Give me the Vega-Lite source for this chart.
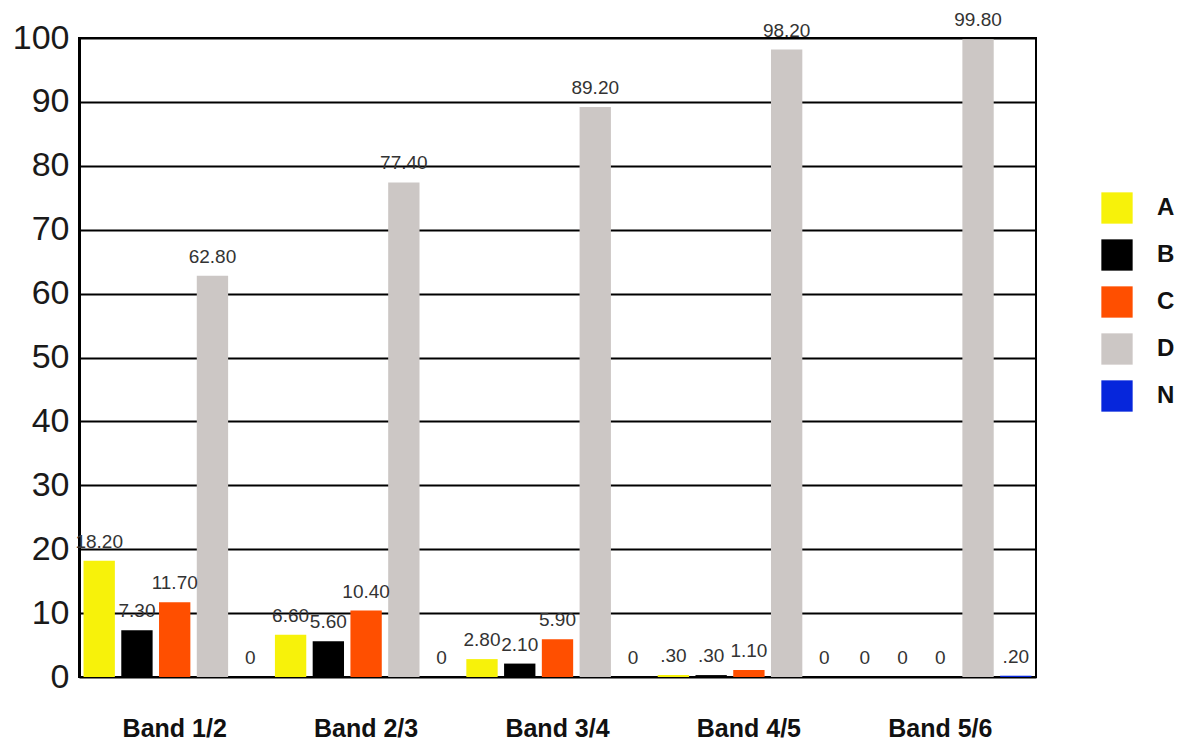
{
  "$schema": "https://vega.github.io/schema/vega-lite/v6.json",
  "autosize": "none",
  "width": 957,
  "height": 639,
  "padding": {"left": 79, "top": 38, "right": 144, "bottom": 65},
  "background": "white",
  "config": {
    "font": "Liberation Sans",
    "view": {"stroke": "black", "strokeWidth": 2}
  },
  "data": {
    "values": [
      {"band": "Band 1/2", "series": "A", "value": 18.2, "label": "18.20"},
      {"band": "Band 1/2", "series": "B", "value": 7.3, "label": "7.30"},
      {"band": "Band 1/2", "series": "C", "value": 11.7, "label": "11.70"},
      {"band": "Band 1/2", "series": "D", "value": 62.8, "label": "62.80"},
      {"band": "Band 1/2", "series": "N", "value": 0, "label": "0"},
      {"band": "Band 2/3", "series": "A", "value": 6.6, "label": "6.60"},
      {"band": "Band 2/3", "series": "B", "value": 5.6, "label": "5.60"},
      {"band": "Band 2/3", "series": "C", "value": 10.4, "label": "10.40"},
      {"band": "Band 2/3", "series": "D", "value": 77.4, "label": "77.40"},
      {"band": "Band 2/3", "series": "N", "value": 0, "label": "0"},
      {"band": "Band 3/4", "series": "A", "value": 2.8, "label": "2.80"},
      {"band": "Band 3/4", "series": "B", "value": 2.1, "label": "2.10"},
      {"band": "Band 3/4", "series": "C", "value": 5.9, "label": "5.90"},
      {"band": "Band 3/4", "series": "D", "value": 89.2, "label": "89.20"},
      {"band": "Band 3/4", "series": "N", "value": 0, "label": "0"},
      {"band": "Band 4/5", "series": "A", "value": 0.3, "label": ".30"},
      {"band": "Band 4/5", "series": "B", "value": 0.3, "label": ".30"},
      {"band": "Band 4/5", "series": "C", "value": 1.1, "label": "1.10"},
      {"band": "Band 4/5", "series": "D", "value": 98.2, "label": "98.20"},
      {"band": "Band 4/5", "series": "N", "value": 0, "label": "0"},
      {"band": "Band 5/6", "series": "A", "value": 0, "label": "0"},
      {"band": "Band 5/6", "series": "B", "value": 0, "label": "0"},
      {"band": "Band 5/6", "series": "C", "value": 0, "label": "0"},
      {"band": "Band 5/6", "series": "D", "value": 99.8, "label": "99.80"},
      {"band": "Band 5/6", "series": "N", "value": 0.2, "label": ".20"}
    ]
  },
  "encoding": {
    "x": {
      "field": "band",
      "type": "nominal",
      "sort": null,
      "scale": {"paddingInner": 0, "paddingOuter": 0},
      "axis": {
        "title": null,
        "labelAngle": 0,
        "labelFontSize": 25,
        "labelFontWeight": "bold",
        "labelColor": "#111",
        "labelPadding": 39,
        "ticks": false,
        "domain": false
      }
    },
    "xOffset": {"field": "series", "type": "nominal", "scale": {"paddingInner": 0.17, "paddingOuter": 0.12}},
    "y": {
      "field": "value",
      "type": "quantitative",
      "scale": {"domain": [0, 100], "nice": false},
      "axis": {
        "title": null,
        "values": [0, 10, 20, 30, 40, 50, 60, 70, 80, 90, 100],
        "labelFontSize": 34,
        "labelColor": "#1a1a1a",
        "labelPadding": 10,
        "ticks": false,
        "domain": true,
        "domainColor": "black",
        "domainWidth": 3,
        "grid": true,
        "gridColor": "black",
        "gridWidth": 2,
        "gridOpacity": 1
      }
    }
  },
  "layer": [
    {
      "mark": {"type": "bar"},
      "encoding": {
        "color": {
          "field": "series",
          "type": "nominal",
          "scale": {
            "domain": ["A", "B", "C", "D", "N"],
            "range": ["#f7f20a", "#000000", "#ff4f00", "#ccc7c5", "#0626dc"]
          },
          "legend": {
            "title": null,
            "orient": "none",
            "legendX": 1022,
            "legendY": 154,
            "symbolType": "square",
            "symbolSize": 980,
            "symbolOpacity": 1,
            "symbolStrokeWidth": 0,
            "labelFontSize": 24,
            "labelFontWeight": "bold",
            "labelColor": "#111",
            "labelOffset": 24,
            "rowPadding": 15
          }
        }
      }
    },
    {
      "mark": {"type": "text", "baseline": "alphabetic", "dy": -13, "fontSize": 19, "color": "#333"},
      "encoding": {"text": {"field": "label"}}
    }
  ]
}
